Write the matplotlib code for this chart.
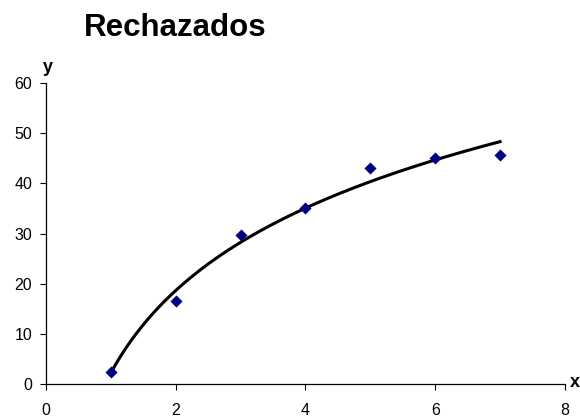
import numpy as np
import matplotlib

matplotlib.use("Agg")
import matplotlib.pyplot as plt

plt.rcParams["font.family"] = ["Liberation Sans", "DejaVu Sans"]

x_vals = [1, 2, 3, 4, 5, 6, 7]
y_vals = [2.4, 16.6, 29.8, 35.0, 43.0, 45.0, 45.7]
x_ticks = [0, 2, 4, 6, 8]
y_ticks = [0, 10, 20, 30, 40, 50, 60]

fig = plt.figure(figsize=(5.8, 4.19), dpi=100)
ax = fig.add_axes([0.0793, 0.0835, 0.8948, 0.7184])

# logarithmic trendline fitted to the points (like Excel's)
a, b = np.polyfit(np.log(x_vals), y_vals, 1)
xs = np.linspace(min(x_vals), max(x_vals), 200)
ax.plot(xs, a * np.log(xs) + b, color="black", linewidth=2.2, zorder=2)

ax.scatter(x_vals, y_vals, marker="D", s=38, color="#000080", zorder=3, linewidths=0)

ax.set_xlim(0, 8)
ax.set_ylim(0, 60)
ax.set_xticks(x_ticks)
ax.set_yticks(y_ticks)
ax.tick_params(labelsize=11.5, length=4, width=0.8, direction="out")
ax.tick_params(axis="x", pad=10)
ax.tick_params(axis="y", pad=6)
for side in ("top", "right"):
    ax.spines[side].set_visible(False)
ax.spines["left"].set_linewidth(0.9)
ax.spines["bottom"].set_linewidth(0.9)

fig.text(0.302, 0.932, "Rechazados", fontsize=22.5, weight="bold", ha="center", va="center")
fig.text(0.083, 0.838, "y", fontsize=13, weight="bold", ha="center", va="center")
fig.text(0.999, 0.086, "x", fontsize=13, weight="bold", ha="right", va="center")

fig.savefig("out.png", dpi=100)
